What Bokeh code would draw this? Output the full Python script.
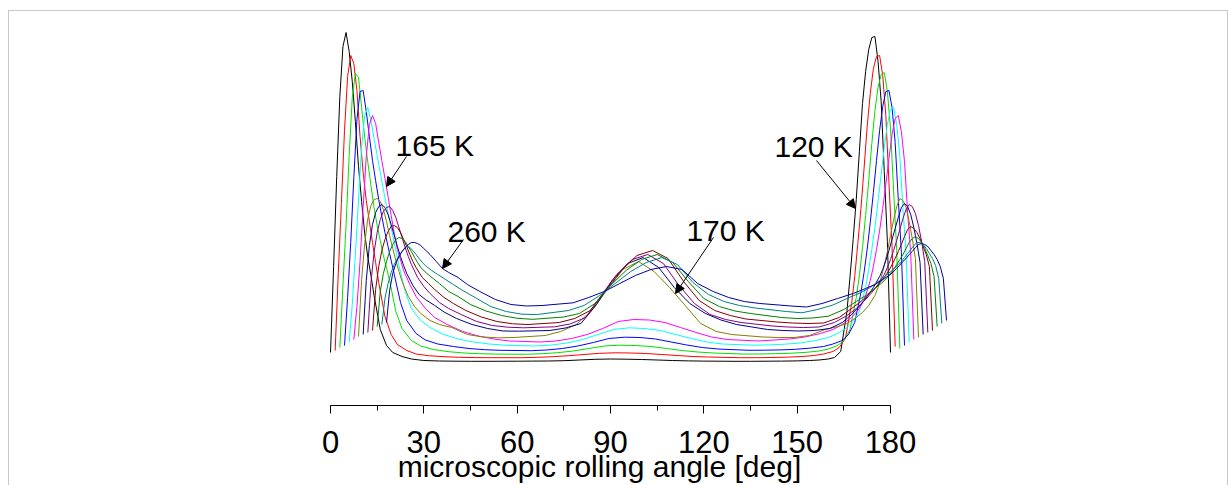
from bokeh.plotting import figure
from bokeh.models import Range1d, SingleIntervalTicker, Label, Arrow, NormalHead, ColumnDataSource
from bokeh.embed import file_html
from bokeh.resources import INLINE

# angle grid of each curve [deg]
theta = [0, 1, 2, 3, 4, 5, 6, 7, 8, 9, 10, 11, 12, 13, 14, 16, 18, 20, 23, 26, 30, 35, 40, 45, 50,
         60, 65, 70, 75, 80, 85, 90, 95, 100, 105, 110, 115, 120,
         130, 135, 140, 145, 150, 154, 157, 160, 162, 164, 166, 167, 168, 169, 170, 171, 172, 173, 174, 175, 176, 177, 178, 179, 180]

# distributions (arbitrary units), lowest curve first
c120 = [9, 95, 185, 265, 315, 329, 310, 280, 240, 195, 160, 128, 104, 86, 66, 32, 16, 9, 5, 2.5, 1, 0.5, 0.3, 0.2, 0.2,
        0.3, 0.4, 0.5, 0.8, 1.5, 2.2, 2.5, 2.3, 2, 1.5, 1, 0.6, 0.4,
        0.2, 0.2, 0.3, 0.4, 0.6, 1, 1.5, 2.5, 4, 10, 50, 85, 122, 162, 210, 258, 290, 312, 324, 325, 300, 260, 190, 120, 9]
c130 = [8, 85, 155, 228, 282, 303, 295, 268, 222, 186, 158, 137, 116, 96, 76, 42, 24, 14, 8, 4.5, 2.8, 1.8, 1.2, 0.9, 0.8,
        0.8, 1.2, 1.8, 2.8, 4, 5.2, 5.7, 5.5, 5, 4, 3, 2, 1.5,
        0.8, 0.8, 1, 1.3, 2, 3, 4.5, 7, 11, 20, 55, 82, 115, 150, 190, 232, 265, 290, 302, 303, 283, 243, 176, 112, 12]
c140 = [8, 70, 130, 200, 258, 282, 278, 248, 218, 193, 170, 148, 130, 115, 100, 75, 44, 27, 15, 9.5, 6, 3.8, 2.5, 1.8, 1.4,
        1.2, 1.8, 2.8, 4.5, 7, 9.5, 10.3, 10, 9, 7, 5, 3.5, 2.5,
        1.4, 1.5, 1.8, 2.3, 3.2, 4.5, 6.5, 10, 15, 26, 58, 80, 108, 140, 175, 212, 245, 268, 281, 283, 264, 227, 165, 105, 7]
c150 = [7, 55, 110, 175, 233, 261, 262, 241, 216, 192, 172, 153, 136, 120, 106, 78, 50, 32, 19, 12.5, 8.5, 6, 4, 2.8, 2.2,
        1.8, 2.5, 4, 6.5, 10, 14, 15.3, 15, 13.5, 10.5, 7.5, 5, 3.5,
        2.2, 2.3, 2.6, 3.2, 4.5, 6, 8.5, 12, 18, 30, 60, 80, 103, 130, 160, 192, 222, 246, 261, 262, 245, 210, 153, 100, 7]
c160 = [7, 45, 95, 150, 203, 234, 242, 229, 211, 194, 177, 160, 144, 129, 114, 84, 58, 41, 29, 22, 15.5, 10.5, 7.5, 5.5, 4.3,
        3.5, 4.5, 6.5, 10, 15, 20, 21.7, 21, 19, 15, 11, 7.5, 5.5,
        4.3, 4.6, 5.3, 6.5, 9, 12, 16, 22, 28, 38, 62, 80, 100, 122, 148, 175, 202, 225, 240, 242, 225, 194, 140, 97, 7]
c165 = [7, 40, 85, 140, 190, 222, 231, 223, 204, 186, 168, 150, 131, 113, 97, 76, 62, 50, 38, 29, 22, 15, 10.5, 7.5, 5.5,
        4.5, 5.5, 8, 12, 18, 25, 27, 26.5, 24, 19, 14, 9.5, 7,
        5.5, 6.5, 7.5, 9.5, 13, 17, 22, 29, 36, 46, 66, 80, 97, 116, 138, 162, 188, 212, 228, 231, 215, 185, 134, 93, 7]
c170 = [7, 64, 100, 125, 138, 144, 145, 142, 134, 122, 108, 95, 83, 72, 62, 47, 37, 30, 23, 19, 16, 9, 6.5, 5.7, 6,
        8, 12, 19, 33, 54, 74, 82, 72, 56, 38, 20, 12, 9,
        6.5, 6, 6, 8, 14, 17, 20, 26, 31, 38, 48, 56, 66, 78, 92, 108, 124, 137, 145, 143, 136, 122, 105, 85, 6]
c180 = [6, 60, 95, 116, 128, 134, 136, 133, 126, 116, 105, 94, 84, 75, 67, 55, 46, 41, 35, 28.5, 22, 16, 12, 9.5, 9.3,
        10, 12.5, 17, 36, 60, 77, 83, 73, 53, 37, 27, 20.5, 16,
        11, 10, 9.5, 10, 12, 18, 26, 36, 44, 53, 64, 71, 80, 90, 101, 112, 123, 133, 137, 134, 126, 113, 97, 78, 6]
c190 = [5, 55, 85, 105, 118, 126, 130, 131, 127, 120, 110, 100, 90, 81, 73, 60, 51, 44, 35, 29, 23, 16, 12, 10.3, 9.7,
        10.7, 13.5, 20, 42, 63, 78, 83, 74, 52, 34, 23, 18, 15,
        11.5, 10.5, 10, 10.5, 15, 22, 29, 38, 45, 53, 63, 70, 78, 87, 97, 108, 119, 128, 133, 131, 124, 112, 96, 76, 5]
c200 = [4, 45, 68, 84, 95, 103, 108, 109, 107, 102, 95, 88, 80, 73, 67, 57, 51, 45, 37, 31, 24, 17.5, 13, 10.7, 10,
        12, 16, 24, 44, 64, 79, 84, 76, 53, 34, 24, 19, 15.5,
        12.5, 11.5, 11, 11.5, 17, 26, 33, 42, 48, 55, 64, 70, 76, 83, 90, 98, 105, 108, 106, 102, 96, 88, 80, 68, 4]
c220 = [5, 40, 58, 70, 80, 87, 92, 94, 93, 90, 85, 80, 74, 69, 64, 58, 53, 48, 40, 35, 27, 20.5, 16, 13.2, 12.2,
        14.5, 18, 28, 46, 61, 72, 77, 69, 50, 33, 25, 20.5, 18,
        14, 13, 13.5, 15.3, 22, 30, 36, 43, 48, 54, 62, 67, 72, 77, 83, 89, 93, 95, 93, 89, 83, 76, 68, 55, 5]
c240 = [4, 30, 45, 56, 64, 70, 75, 79, 82, 81, 78, 74, 70, 66, 63, 58, 54, 50, 44, 38, 31, 22, 17, 14.3, 14,
        18, 23, 33, 45, 57, 66, 71, 64, 46, 34, 27, 23, 20.5,
        17, 15.7, 19, 23.5, 30.7, 36, 41, 48, 53, 58, 64, 67, 71, 75, 79, 83, 86, 86, 84, 80, 75, 70, 63, 50, 5]
c260 = [3, 35, 52, 62, 69, 74, 78, 81, 83, 83, 82, 80, 77, 74, 71, 64, 57, 53, 48, 41, 34, 26, 21, 19.5, 20,
        22.7, 28, 34, 42, 50, 56, 59, 56, 42, 34, 28, 24, 22,
        19.5, 18.5, 22, 27, 32, 37, 41, 47, 51, 57, 64, 67, 71, 74, 78, 81, 82, 81, 79, 75, 71, 66, 59, 47, 5]

curves = [c120, c130, c140, c150, c160, c165, c170, c180, c190, c200, c220, c240, c260]
colors = ["#000000", "#FF0000", "#00E000", "#0000FF", "#00FFFF", "#FF00FF", "#808000",
          "#000080", "#800080", "#800000", "#008000", "#008080", "#0000A0"]
x_shift = 1.5   # waterfall offset per curve [deg]
y_shift = 3.0   # waterfall offset per curve [a.u.]

labels = ["120 K", "165 K", "170 K", "260 K"]

p = figure(frame_width=696, frame_height=386,
           min_border_left=242, min_border_right=280, min_border_top=8, min_border_bottom=79,
           x_range=Range1d(-25.393, 198.321), y_range=Range1d(-44, 342),
           y_axis_location=None, output_backend="svg", toolbar_location=None)
p.margin = (10, 0, 0, 8)
p.styles = {"border": "1px solid #c8c8c8"}
p.outline_line_color = None
p.grid.visible = False
p.background_fill_color = "white"
p.border_fill_color = "white"

for i, (vals, col) in enumerate(zip(curves, colors)):
    src = ColumnDataSource(dict(x=[t + i * x_shift for t in theta], y=[v + i * y_shift for v in vals]))
    p.line("x", "y", source=src, line_color=col, line_width=1)

ax = p.xaxis[0]
ax.ticker = SingleIntervalTicker(interval=30, num_minor_ticks=2)
ax.bounds = (0, 180)
ax.axis_line_color = "black"
ax.major_tick_in = 0
ax.major_tick_out = 8
ax.minor_tick_in = 0
ax.minor_tick_out = 5
ax.major_tick_line_color = "black"
ax.minor_tick_line_color = "black"
ax.major_label_text_font = "Liberation Sans"
ax.major_label_text_font_size = "31px"
ax.major_label_text_color = "black"
ax.major_label_standoff = 17
ax.axis_label = "microscopic rolling angle [deg]"
ax.axis_label_text_font = "Liberation Sans"
ax.axis_label_text_font_size = "30px"
ax.axis_label_text_font_style = "normal"
ax.axis_label_text_color = "black"
ax.axis_label_standoff = -6

lab_pos = [(142.7, 215), (20.9, 216), (114.4, 131), (37.6, 130)]
for txt, (lx, ly) in zip(labels, lab_pos):
    p.add_layout(Label(x=lx, y=ly, text=txt, text_font="Liberation Sans", text_font_size="30px",
                       text_color="black", text_baseline="alphabetic"))

arrows = [((156.2, 201), (168.75, 153)), ((24.43, 205), (18.0, 175)),
          ((123.1, 124), (110.9, 68)), ((42.75, 122), (36.0, 93))]
for (xs, ys), (xe, ye) in arrows:
    p.add_layout(Arrow(x_start=xs, y_start=ys, x_end=xe, y_end=ye, line_width=1, line_color="black",
                       end=NormalHead(size=9, fill_color="black", line_color="black")))

open("out.html", "w").write(file_html(p, INLINE))
